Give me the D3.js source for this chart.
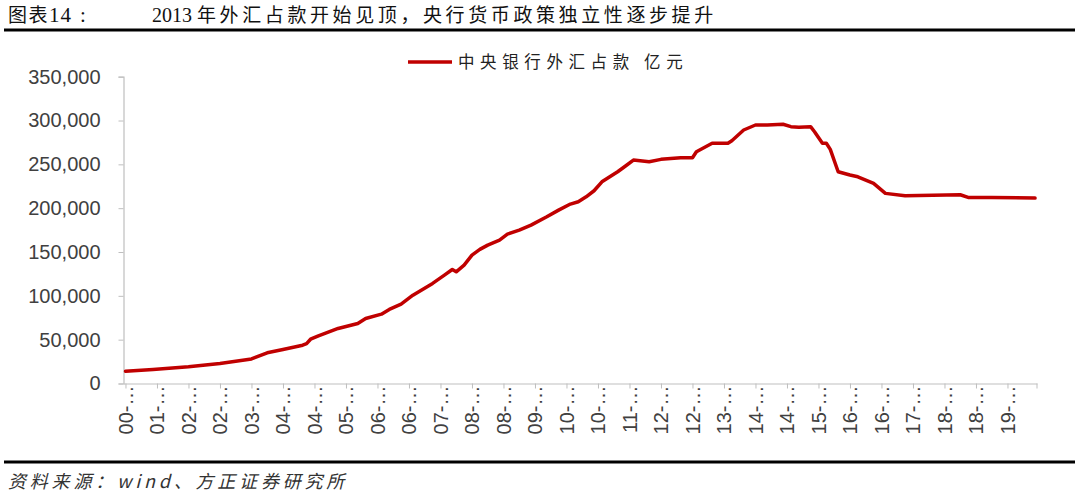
<!DOCTYPE html>
<html>
<head>
<meta charset="utf-8">
<script src="https://cdn.jsdelivr.net/npm/d3@7/dist/d3.min.js"></script>
<style>
  html, body { margin: 0; padding: 0; background: #fff; }
  svg { display: block; }
</style>
</head>
<body>
<svg id="chart" width="1080" height="498"></svg>
<script>
// ---- data ----
const dates = [
  "2000-09","2001-04","2002-01","2002-09","2003-05","2003-09","2004-01","2004-06","2004-07","2004-08",
  "2004-10","2005-03","2005-08","2005-10","2006-02","2006-04","2006-07","2006-10","2007-03","2007-06",
  "2007-08","2007-09","2007-11","2008-01","2008-03","2008-05","2008-08","2008-10","2009-01","2009-04",
  "2009-08","2009-11","2010-02","2010-04","2010-06","2010-08","2010-10","2011-02","2011-04","2011-06",
  "2011-10","2012-01","2012-06","2012-09","2012-10","2013-02","2013-06","2013-07","2013-10","2014-01",
  "2014-04","2014-08","2014-10","2014-12","2015-03","2015-04","2015-06","2015-07","2015-08","2015-10",
  "2016-01","2016-03","2016-07","2016-10","2017-03","2018-05","2018-07","2019-01","2019-12"
];
const values = [
  14000,16000,19000,22800,28000,35000,38800,43700,45500,50500,
  54300,62800,68500,74200,79100,84500,90500,100800,114200,123600,
  130100,127400,135000,146500,153000,157900,163600,170400,175000,180700,
  190200,197800,204700,207300,213000,219900,230100,241600,248100,254900,
  253000,255700,257500,257500,264400,274000,274000,277000,289200,294900,
  294900,295700,293000,292200,293000,287200,274000,274000,267100,241600,
  237800,235800,228300,216900,214200,215300,212300,212300,211500
];
const firstMonth = "2000-09";
const lastMonth = "2019-12";
const tickMonths = [
  "2000-09","2001-05","2002-01","2002-09","2003-05","2004-01","2004-09","2005-05","2006-01","2006-09",
  "2007-05","2008-01","2008-09","2009-05","2010-01","2010-09","2011-05","2012-01","2012-09","2013-05",
  "2014-01","2014-09","2015-05","2016-01","2016-09","2017-05","2018-01","2018-09","2019-05"
];
const tickLabels = [
  "00-…","01-…","02-…","02-…","03-…","04-…","04-…","05-…","06-…","06-…",
  "07-…","08-…","08-…","09-…","10-…","10-…","11-…","12-…","12-…","13-…",
  "14-…","14-…","15-…","16-…","16-…","17-…","18-…","18-…","19-…"
];
const yTicks = [0,50000,100000,150000,200000,250000,300000,350000];
const seriesName = "中央银行外汇占款 亿元";
const titleLabelCJK = "图表";
const titleLabelNum = "14";
const titleLabelColon = ":";
const titleYear = "2013 ";
const titleText = "年外汇占款开始见顶，央行货币政策独立性逐步提升";
const sourceText = "资料来源：wind、方正证券研究所";

(function () {
const monthIndex = s => { const [yy, mm] = s.split("-").map(Number); return (yy - 2000) * 12 + (mm - 1); };
const i0 = monthIndex(firstMonth), i1 = monthIndex(lastMonth);

const svg = d3.select("#chart");
const pLeft = 123.5, pRight = 1037, pTop = 76.7, pBottom = 383.5;

const x = d3.scaleLinear().domain([i0 - 0.5, i1 + 0.5]).range([pLeft, pRight]);
const y = d3.scaleLinear().domain([0, 350000]).range([pBottom, pTop]);

// ---- title ----
const serif = "'Liberation Serif','Noto Sans CJK SC'";
const t1 = svg.append("text").attr("x", 8).attr("y", 22)
  .attr("font-family", serif).attr("font-size", 19).attr("fill", "#111");
t1.append("tspan").attr("letter-spacing", 1.5).text(titleLabelCJK);
t1.append("tspan").attr("font-size", 21).attr("letter-spacing", 1).text(titleLabelNum);
t1.append("tspan").attr("font-size", 21).attr("dx", 8).text(titleLabelColon);
const t2 = svg.append("text").attr("x", 152).attr("y", 22)
  .attr("font-family", serif).attr("font-size", 19).attr("fill", "#111");
t2.append("tspan").attr("font-size", 20).text(titleYear);
t2.append("tspan").attr("letter-spacing", 3.6).text(titleText);
svg.append("rect").attr("x", 4).attr("y", 28.5).attr("width", 1071).attr("height", 3).attr("fill", "#000");

// ---- footer ----
svg.append("rect").attr("x", 4).attr("y", 460.5).attr("width", 1071).attr("height", 3).attr("fill", "#000");
svg.append("text").attr("x", 8).attr("y", 488)
  .attr("font-family", "'Noto Sans CJK SC'")
  .attr("font-size", 18).attr("font-style", "italic").attr("letter-spacing", 3.8).attr("fill", "#333")
  .text(sourceText);

// ---- y axis ----
const yAxis = d3.axisLeft(y).tickValues(yTicks).tickSize(5).tickPadding(18)
  .tickFormat(d3.format(","));
const gy = svg.append("g").attr("transform", `translate(${pLeft},0)`).call(yAxis);
gy.select(".domain").attr("stroke", "#bfbfbf").attr("stroke-width", 1.2);
gy.selectAll(".tick line").attr("stroke", "#bfbfbf");
gy.selectAll(".tick text").attr("font-family", "'Liberation Sans', Arial, sans-serif")
  .attr("font-size", 20).attr("fill", "#404040");

// ---- x axis ----
const tickIdx = tickMonths.map(monthIndex);
const xAxis = d3.axisBottom(x).tickValues(tickIdx).tickSize(5).tickPadding(0)
  .tickSizeOuter(0)
  .tickFormat((d, i) => tickLabels[i]);
const gx = svg.append("g").attr("transform", `translate(0,${pBottom})`).call(xAxis);
gx.select(".domain").attr("stroke", "#bfbfbf").attr("stroke-width", 1.2);
gx.selectAll(".tick line").attr("stroke", "#bfbfbf");
gx.selectAll(".tick text")
  .attr("font-family", "'Liberation Sans', Arial, sans-serif")
  .attr("font-size", 20).attr("fill", "#404040")
  .attr("text-anchor", "end")
  .attr("transform", "translate(0,2) rotate(-90)")
  .attr("x", 0).attr("y", 0).attr("dy", "0.35em");
svg.append("line").attr("x1", pRight).attr("x2", pRight).attr("y1", pBottom).attr("y2", pBottom + 5)
  .attr("stroke", "#bfbfbf");

// ---- line ----
const pts = dates.map((d, i) => ({ i: monthIndex(d), v: values[i] }));
const line = d3.line().x(d => x(d.i)).y(d => y(d.v)).curve(d3.curveLinear);
svg.append("path").datum(pts).attr("d", line)
  .attr("fill", "none").attr("stroke", "#c00000").attr("stroke-width", 3.5)
  .attr("stroke-linejoin", "round").attr("stroke-linecap", "round");

// ---- legend ----
const lg = svg.append("g");
lg.append("line").attr("x1", 408).attr("x2", 452).attr("y1", 62).attr("y2", 62)
  .attr("stroke", "#c00000").attr("stroke-width", 3.5);
lg.append("text").attr("x", 458).attr("y", 68)
  .attr("font-family", "'Noto Sans CJK SC'")
  .attr("font-size", 16.5).attr("letter-spacing", 5.6).attr("fill", "#222")
  .text(seriesName);
})();
</script>
</body>
</html>
